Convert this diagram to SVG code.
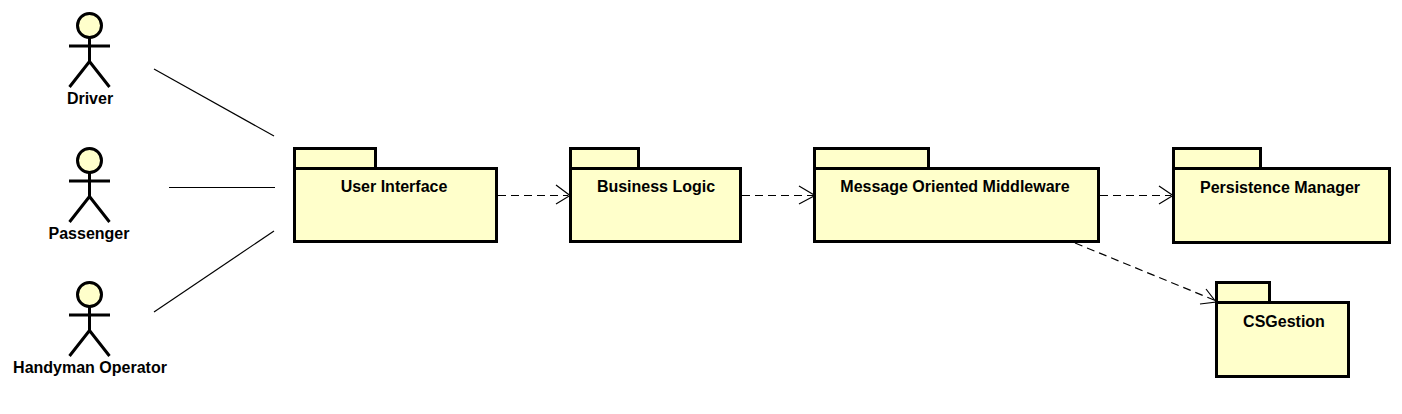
<svg xmlns="http://www.w3.org/2000/svg" width="1402" height="414" viewBox="0 0 1402 414">
<style>
.s{fill:#ffffcb;stroke:#000;stroke-width:3}
.a{fill:none;stroke:#000;stroke-width:3}
.t{font-family:"Liberation Sans",Arial,sans-serif;font-size:16px;font-weight:bold;fill:#000;text-anchor:middle;stroke:none}
.c{fill:none;stroke:#000;stroke-width:1.2}
.d{stroke-dasharray:8 5}
</style>
<defs>
<g id="actor">
<circle class="s" cx="0" cy="0" r="12"/>
<path class="a" d="M0 12V36M-20.500 20.500H20.500M-20 61.500L0 36L20 61.500"/>
</g>
</defs>
<rect width="1402" height="414" fill="#fff"/>
<g id="connectors">
<path class="c" d="M154 69L274 136"/>
<path class="c" d="M169 187.500H275"/>
<path class="c" d="M154 312L274 231"/>
<path class="c d" d="M498 195.500H568"/>
<path class="c" d="M556 185L570 195.500L556 204"/>
<path class="c d" d="M742 195.500H813"/>
<path class="c" d="M799 186L815 195.500L799 204"/>
<path class="c d" d="M1100 195.500H1171"/>
<path class="c" d="M1159 186L1173 195.500L1159 204"/>
<path class="c d" d="M1075 243L1214 300"/>
<path class="c" d="M1206 289L1216 302L1200 304"/>
</g>
<g id="driver"><use href="#actor" x="89.500" y="25.500"/><text class="t" x="90" y="104">Driver</text></g>
<g id="passenger"><use href="#actor" x="89.500" y="160.500"/><text class="t" x="89" y="239">Passenger</text></g>
<g id="handyman"><use href="#actor" x="89.500" y="294.500"/><text class="t" x="90" y="373">Handyman Operator</text></g>
<g id="user-interface"><rect class="s" x="294.500" y="148.500" width="81" height="20"/><rect class="s" x="294.500" y="168.500" width="202" height="73"/><text class="t" x="394" y="192">User Interface</text></g>
<g id="business-logic"><rect class="s" x="570.500" y="148.500" width="68" height="20"/><rect class="s" x="570.500" y="168.500" width="170" height="73"/><text class="t" x="656" y="192">Business Logic</text></g>
<g id="mom"><rect class="s" x="814.500" y="148.500" width="114" height="20"/><rect class="s" x="814.500" y="168.500" width="284" height="73"/><text class="t" x="955" y="192">Message Oriented Middleware</text></g>
<g id="persistence"><rect class="s" x="1173.500" y="148.500" width="87" height="20"/><rect class="s" x="1173.500" y="168.500" width="216" height="74"/><text class="t" x="1280" y="193">Persistence Manager</text></g>
<g id="csgestion"><rect class="s" x="1216.500" y="282.500" width="53" height="20"/><rect class="s" x="1216.500" y="302.500" width="132" height="74"/><text class="t" x="1284" y="327">CSGestion</text></g>
</svg>
